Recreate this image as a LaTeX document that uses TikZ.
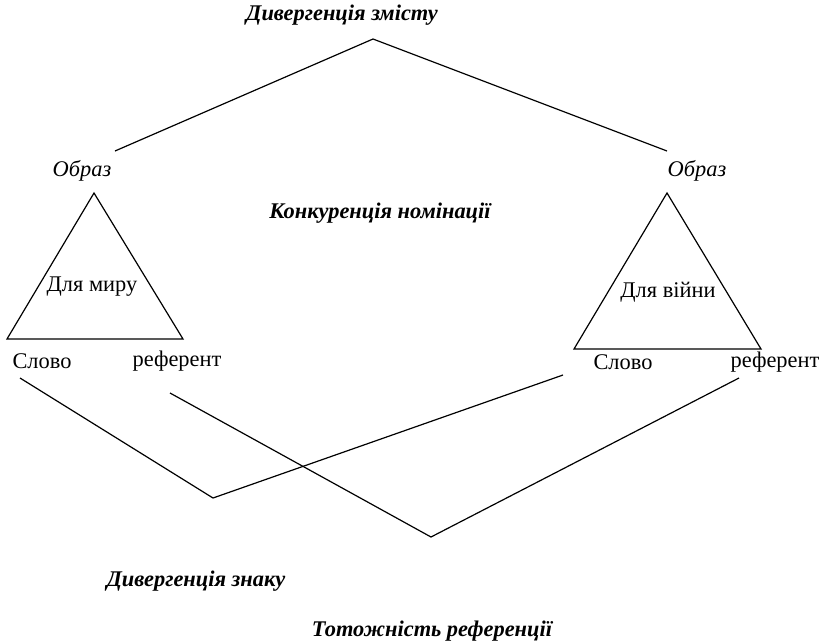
\documentclass[tikz,border=0pt]{standalone}
\usepackage{fontspec}
\setmainfont{Liberation Serif}
\usepackage{tikz}
\usetikzlibrary{calc}

\begin{document}
\begin{tikzpicture}[x=0.5pt,y=-0.5pt,line width=0.6pt,
  every node/.style={font=\fontsize{11.2}{13}\selectfont,inner sep=0pt},
  heading/.style={font=\fontsize{11.2}{13}\selectfont\bfseries\itshape},
  corner/.style={font=\fontsize{11.2}{13}\selectfont\itshape}]
  \useasboundingbox (0,0) rectangle (819,643);

  % Nodes
  \node[heading] (zmist) at (342,15) {Дивергенція змісту};
  \node[heading] (konk) at (380,213) {Конкуренція номінації};
  \node[heading] (znak) at (196,581) {Дивергенція знаку};
  \node[heading] (totozh) at (432,631) {Тотожність референції};

  \node[corner] (obrazL) at (82,171) {Образ};
  \node[corner] (obrazR) at (697,171) {Образ};
  \node (myr) at (92,287) {Для миру};
  \node (viyna) at (668,292) {Для війни};
  \node (slovoL) at (42,361) {Слово};
  \node (refL) at (177,361) {референт};
  \node (slovoR) at (623,362) {Слово};
  \node (refR) at (775,362) {референт};

  % Triangles
  \coordinate (tL) at (94,193);
  \coordinate (aL) at (7,339);
  \coordinate (bL) at (183,339);
  \coordinate (tR) at (667,193);
  \coordinate (aR) at (574,349);
  \coordinate (bR) at (761,349);
  \draw (tL) -- (aL) -- (bL) -- cycle;
  \draw (tR) -- (aR) -- (bR) -- cycle;

  % Connectors
  \coordinate (top) at (373,39);
  \coordinate (topL) at (115,151);
  \coordinate (topR) at (667,151);
  \draw (topL) -- (top) -- (topR);

  \coordinate (s1) at (20,378);
  \coordinate (v1) at (213,498);
  \coordinate (e1) at (563,375);
  \draw (s1) -- (v1) -- (e1);

  \coordinate (s2) at (170,393);
  \coordinate (v2) at (431,537);
  \coordinate (e2) at (739,378);
  \draw (s2) -- (v2) -- (e2);
\end{tikzpicture}
\end{document}
